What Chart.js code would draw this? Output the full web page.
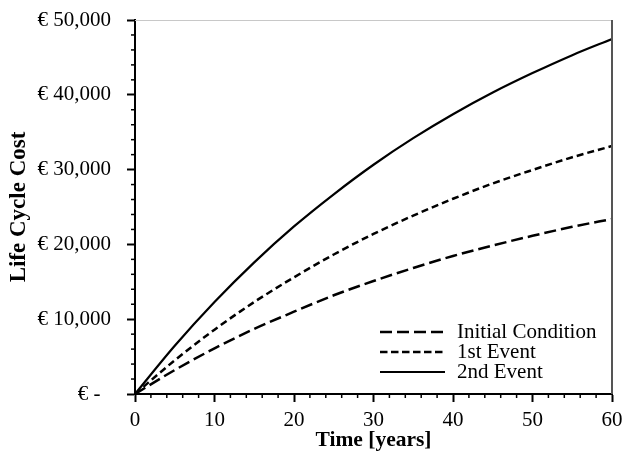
<!DOCTYPE html>
<html>
<head>
<meta charset="utf-8">
<script src="https://cdn.jsdelivr.net/npm/chart.js@4.4.1/dist/chart.umd.min.js"></script>
<style>
  html, body { margin: 0; padding: 0; background: #fff; }
  #wrap { width: 622px; height: 456px; }
</style>
</head>
<body>
<div id="wrap"><canvas id="chart"></canvas></div>
<script>
// values, every 5 years
const years = [0, 5, 10, 15, 20, 25, 30, 35, 40, 45, 50, 55, 60];
const initialCondition = [0, 3200, 6100, 8700, 11000, 13200, 15100, 16850, 18450, 19850, 21150, 22350, 23400];
const firstEvent = [0, 4500, 8600, 12300, 15600, 18650, 21400, 23850, 26100, 28150, 29950, 31650, 33150];
const secondEvent = [0, 6450, 12300, 17600, 22400, 26700, 30650, 34200, 37400, 40300, 42900, 45300, 47460];
const seriesNames = ["Initial Condition", "1st Event", "2nd Event"];

const FONT = "'Liberation Serif', 'Times New Roman', serif";

function points(values) {
    return years.map((t, i) => ({ x: t, y: values[i] }));
}

// minor ticks + grey top/right frame
const framePlugin = {
    id: "frame",
    afterDraw(chart) {
        const { ctx, chartArea: a, scales } = chart;
        ctx.save();
        ctx.strokeStyle = "#000";
        ctx.lineWidth = 1.5;
        for (let v = 2000; v < 50000; v += 2000) {
            if (v % 10000 === 0) continue;
            const y = scales.y.getPixelForValue(v);
            ctx.beginPath();
            ctx.moveTo(a.left - 4, y);
            ctx.lineTo(a.left, y);
            ctx.stroke();
        }
        for (let t = 2; t < 60; t += 2) {
            if (t % 10 === 0) continue;
            const x = scales.x.getPixelForValue(t);
            ctx.beginPath();
            ctx.moveTo(x, a.bottom);
            ctx.lineTo(x, a.bottom + 4);
            ctx.stroke();
        }
        // top / right border
        ctx.strokeStyle = "#c8c8c8";
        ctx.lineWidth = 1;
        ctx.beginPath();
        ctx.moveTo(a.left, a.top + 0.5);
        ctx.lineTo(a.right, a.top + 0.5);
        ctx.stroke();
        ctx.strokeStyle = "#555";
        ctx.lineWidth = 2;
        ctx.beginPath();
        ctx.moveTo(a.right, a.top);
        ctx.lineTo(a.right, a.bottom);
        ctx.stroke();
        ctx.restore();
    },
};

// legend inside the plot, bottom right
const legendPlugin = {
    id: "innerLegend",
    afterDraw(chart) {
        const { ctx, chartArea: a } = chart;
        const x0 = a.right - 232;
        const y0 = a.bottom - 62;
        ctx.save();
        ctx.font = "21px " + FONT;
        ctx.textBaseline = "middle";
        ctx.fillStyle = "#000";
        chart.data.datasets.forEach((ds, i) => {
            const y = y0 + i * 20;
            ctx.strokeStyle = ds.borderColor;
            ctx.lineWidth = ds.borderWidth;
            ctx.setLineDash(ds.legendDash || ds.borderDash || []);
            ctx.beginPath();
            ctx.moveTo(x0, y);
            ctx.lineTo(x0 + 65, y);
            ctx.stroke();
            ctx.setLineDash([]);
            ctx.fillText(ds.label, x0 + 77, y);
        });
        ctx.restore();
    },
};

function initChart() {
    const ctx = document.getElementById("chart").getContext("2d");
    new Chart(ctx, {
        type: "line",
        data: {
            datasets: [
                {
                    label: seriesNames[0],
                    data: points(initialCondition),
                    borderColor: "#000",
                    borderWidth: 2.5,
                    borderDash: [12, 5],
                    pointRadius: 0,
                    cubicInterpolationMode: "monotone",
                },
                {
                    label: seriesNames[1],
                    data: points(firstEvent),
                    borderColor: "#000",
                    borderWidth: 2.5,
                    borderDash: [7, 4],
                    legendDash: [7.5, 3.5],
                    pointRadius: 0,
                    cubicInterpolationMode: "monotone",
                },
                {
                    label: seriesNames[2],
                    data: points(secondEvent),
                    borderColor: "#000",
                    borderWidth: 2.2,
                    pointRadius: 0,
                    cubicInterpolationMode: "monotone",
                },
            ],
        },
        options: {
            responsive: true,
            maintainAspectRatio: false,
            animation: false,
            layout: { padding: { top: 20, right: 10, left: 0, bottom: 0 } },
            plugins: { legend: { display: false }, tooltip: { enabled: false } },
            scales: {
                x: {
                    type: "linear",
                    min: 0,
                    max: 60,
                    afterFit: (s) => {
                        s.height = 62;
                        s.paddingLeft = 0;
                        s.paddingRight = 0;
                    },
                    ticks: {
                        stepSize: 10,
                        color: "#000",
                        padding: 6,
                        maxRotation: 0,
                        font: { family: FONT, size: 21 },
                    },
                    grid: { drawOnChartArea: false, tickLength: 8, tickColor: "#000", tickWidth: 2 },
                    border: { color: "#000", width: 2 },
                    title: {
                        display: true,
                        text: "Time [years]",
                        color: "#000",
                        padding: { top: 0, bottom: 2.5 },
                        font: { family: FONT, size: 21.5, weight: "bold" },
                    },
                },
                y: {
                    min: 0,
                    max: 50000,
                    afterFit: (s) => {
                        s.width = 135;
                        s.paddingTop = 0;
                        s.paddingBottom = 0;
                    },
                    ticks: {
                        stepSize: 10000,
                        color: "#000",
                        padding: 16,
                        font: { family: FONT, size: 21 },
                        callback: (v) => (v === 0 ? "€ -  " : "€ " + v.toLocaleString("en-US")),
                    },
                    grid: { drawOnChartArea: false, tickLength: 8, tickColor: "#000", tickWidth: 2 },
                    border: { color: "#000", width: 2 },
                    title: {
                        display: true,
                        text: "Life Cycle Cost",
                        color: "#000",
                        padding: { top: 5, bottom: 0 },
                        font: { family: FONT, size: 23, weight: "bold" },
                    },
                },
            },
        },
        plugins: [framePlugin, legendPlugin],
    });
}

document.addEventListener("DOMContentLoaded", initChart);
</script>
</body>
</html>
